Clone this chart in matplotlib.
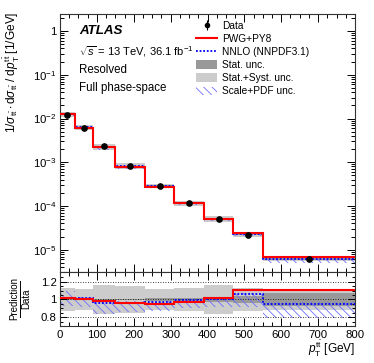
import matplotlib
matplotlib.use('Agg')
import matplotlib.pyplot as plt
import numpy as np
from matplotlib.lines import Line2D
from matplotlib.patches import Patch
from matplotlib.ticker import FixedLocator, MultipleLocator, NullFormatter

plt.rcParams['font.family'] = ['Liberation Sans', 'DejaVu Sans']
plt.rcParams['mathtext.fontset'] = 'custom'
plt.rcParams['mathtext.rm'] = 'Liberation Sans'
plt.rcParams['mathtext.it'] = 'Liberation Sans:italic'
plt.rcParams['mathtext.bf'] = 'Liberation Sans:bold'
plt.rcParams['hatch.linewidth'] = 0.6

# bin edges in GeV
bin_edges = [0, 40, 90, 150, 230, 310, 390, 470, 550, 800]

# normalised cross-section, main panel
data_xs = [1.23e-2, 6.2e-3, 2.3e-3, 8.3e-4, 2.9e-4, 1.18e-4, 5.0e-5, 2.2e-5, 6.3e-6]
pwg_xs = [1.25e-2, 6.2e-3, 2.25e-3, 7.9e-4, 2.75e-4, 1.15e-4, 5.1e-5, 2.45e-5, 7.0e-6]
nnlo_xs = [1.25e-2, 6.3e-3, 2.2e-3, 8.0e-4, 2.8e-4, 1.17e-4, 5.05e-5, 2.35e-5, 6.0e-6]

# relative uncertainties on data
stat_unc = [0.005, 0.005, 0.008, 0.01, 0.015, 0.02, 0.025, 0.035, 0.07]
total_unc = [0.13, 0.12, 0.16, 0.15, 0.12, 0.13, 0.16, 0.13, 0.12]

# prediction / data
pwg_ratio = [1.02, 1.0, 0.985, 0.955, 0.95, 0.975, 1.02, 1.11, 1.11]
nnlo_ratio = [1.02, 1.015, 0.965, 0.965, 0.97, 0.99, 1.01, 1.06, 0.95]
nnlo_band_lo = [0.93, 0.92, 0.84, 0.86, 0.87, 0.90, 0.91, 0.92, 0.79]
nnlo_band_hi = [1.10, 1.03, 0.98, 0.98, 0.98, 1.00, 1.02, 1.07, 0.97]

# axis ticks
y_major = [1e-5, 1e-4, 1e-3, 1e-2, 1e-1, 1]
x_major = [0, 100, 200, 300, 400, 500, 600, 700, 800]
ratio_major = [0.8, 1.0, 1.2]

edges = np.array(bin_edges, dtype=float)
centers = 0.5 * (edges[1:] + edges[:-1])
data = np.array(data_xs)
stat = np.array(stat_unc)
tot = np.array(total_unc)

LIGHT = '#cccccc'
DARK = '#999999'
HATCH_C = '#6f6fff'
HATCH = '\\\\\\\\'

W, H = 374, 363
fig = plt.figure(figsize=(W / 100, H / 100), dpi=100)
left, right = 60 / W, 355 / W
ax = fig.add_axes([left, 1 - 272 / H, right - left, (272 - 14) / H])
axr = fig.add_axes([left, 1 - 326 / H, right - left, (326 - 272) / H])

# main panel
ax.stairs(data * (1 + tot), edges, baseline=data * (1 - tot), fill=True, color=LIGHT, lw=0)
ax.stairs(data * (1 + stat), edges, baseline=data * (1 - stat), fill=True, color=DARK, lw=0)
ax.stairs(data * np.array(nnlo_band_hi), edges, baseline=data * np.array(nnlo_band_lo),
          fill=True, facecolor='none', edgecolor=HATCH_C, hatch=HATCH, lw=0)
ax.stairs(nnlo_xs, edges, baseline=None, color='blue', lw=1.3, ls=(0, (1, 1)), zorder=4)
ax.stairs(pwg_xs, edges, baseline=None, color='red', lw=1.5, zorder=5)
ax.errorbar(centers, data, yerr=data * stat, fmt='o', color='black', ms=3.8,
            elinewidth=0.8, capsize=0, zorder=6)

ax.set_yscale('log')
ax.set_ylim(3.1e-6, 2.45)
ax.set_xlim(0, 800)

# only ticks inside the view range, so no hidden labels are left around
minor_y = [m * 10.0 ** e for e in range(-6, 1) for m in range(2, 10)]
minor_y = [v for v in minor_y if 3.1e-6 <= v <= 2.45]
ax.yaxis.set_major_locator(FixedLocator(y_major))
ax.yaxis.set_minor_locator(FixedLocator(minor_y))
ax.yaxis.set_minor_formatter(NullFormatter())


def log_label(v, pos):
    e = int(round(np.log10(v)))
    return '1' if e == 0 else r'$10^{%d}$' % e


ax.yaxis.set_major_formatter(plt.FuncFormatter(log_label))
ax.tick_params(labelbottom=False)

# ratio panel
axr.stairs(1 + tot, edges, baseline=1 - tot, fill=True, color=LIGHT, lw=0)
axr.stairs(1 + stat, edges, baseline=1 - stat, fill=True, color=DARK, lw=0)
axr.stairs(nnlo_band_hi, edges, baseline=nnlo_band_lo, fill=True, facecolor='none',
           edgecolor=HATCH_C, hatch=HATCH, lw=0)
for yv in ratio_major:
    axr.axhline(yv, color='black', lw=0.6, ls=(0, (1, 2)), zorder=3)
axr.stairs(nnlo_ratio, edges, baseline=None, color='blue', lw=1.3, ls=(0, (1, 1)), zorder=4)
axr.stairs(pwg_ratio, edges, baseline=None, color='red', lw=1.5, zorder=5)
axr.set_xlim(0, 800)
axr.set_ylim(0.7, 1.31)
axr.yaxis.set_major_locator(FixedLocator(ratio_major))
axr.yaxis.set_major_formatter(plt.FuncFormatter(lambda v, p: '1' if abs(v - 1) < 1e-6 else '%.1f' % v))
axr.yaxis.set_minor_locator(FixedLocator(np.arange(0.75, 1.30, 0.05)))

for a in (ax, axr):
    a.xaxis.set_major_locator(FixedLocator(x_major))
    a.xaxis.set_minor_locator(FixedLocator(np.arange(25, 800, 25)))
    a.tick_params(which='both', direction='in', top=True, right=True, labelsize=8.2,
                  width=0.7, colors='black', pad=2.5)
    a.tick_params(which='major', length=6)
    a.tick_params(which='minor', length=3)
    for s in a.spines.values():
        s.set_linewidth(0.8)
        s.set_color('#333333')
axr.tick_params(which='major', axis='y', length=5)
axr.tick_params(which='minor', axis='y', length=2.5)
axr.tick_params(axis='x', pad=3)

# labels
fig.text(12 / W, 1 - 12 / H,
         r'$1/\sigma_{\mathrm{t\bar{t}}}\cdot\mathrm{d}\sigma_{\mathrm{t\bar{t}}}\ /\ \mathrm{d}p^{\mathrm{t\bar{t}}}_{\mathrm{T}}$ [1/GeV]',
         rotation=90, ha='center', va='top', fontsize=8.6)

# ratio label drawn as a fraction: numerator, bar, denominator
fig.text(14 / W, 1 - 299 / H, 'Prediction', rotation=90, ha='center', va='center', fontsize=7)
fig.text(26 / W, 1 - 299 / H, 'Data', rotation=90, ha='center', va='center', fontsize=7)
fig.add_artist(Line2D([19.5 / W, 19.5 / W], [1 - 281 / H, 1 - 317 / H],
                      transform=fig.transFigure, color='black', lw=0.7))

fig.text(355 / W, 1 - 349 / H, r'$p^{\mathrm{t\bar{t}}}_{\mathrm{T}}$ [GeV]',
         ha='right', va='center', fontsize=8.6)

fig.text(79 / W, 1 - 31 / H, 'ATLAS', fontsize=9.6, fontweight='bold', style='italic',
         ha='left', va='center')
fig.text(79 / W, 1 - 52 / H, r'$\sqrt{s}$ = 13 TeV, 36.1 fb$^{-1}$', fontsize=8,
         ha='left', va='center')
fig.text(79 / W, 1 - 70 / H, 'Resolved', fontsize=8.3, ha='left', va='center')
fig.text(79 / W, 1 - 88 / H, 'Full phase-space', fontsize=8.3, ha='left', va='center')

# legend
h_data = ax.errorbar([], [], yerr=[], fmt='o', color='black', ms=3, elinewidth=0.8)
handles = [
    h_data,
    Line2D([], [], color='red', lw=1.5),
    Line2D([], [], color='blue', lw=1.3, ls=(0, (1, 1))),
    Patch(facecolor=DARK, edgecolor='none'),
    Patch(facecolor=LIGHT, edgecolor='none'),
    Patch(facecolor='none', edgecolor=HATCH_C, hatch=HATCH, lw=0),
]
labels = ['Data', 'PWG+PY8', 'NNLO (NNPDF3.1)', 'Stat. unc.', 'Stat.+Syst. unc.', 'Scale+PDF unc.']
fig.legend(handles, labels, loc='upper left', bbox_to_anchor=(196 / W, 1 - 21 / H),
           frameon=False, fontsize=7.3, borderpad=0, borderaxespad=0, handlelength=2.1,
           handleheight=0.9, handletextpad=0.45, labelspacing=0.3)

fig.savefig('out.png', dpi=100)
